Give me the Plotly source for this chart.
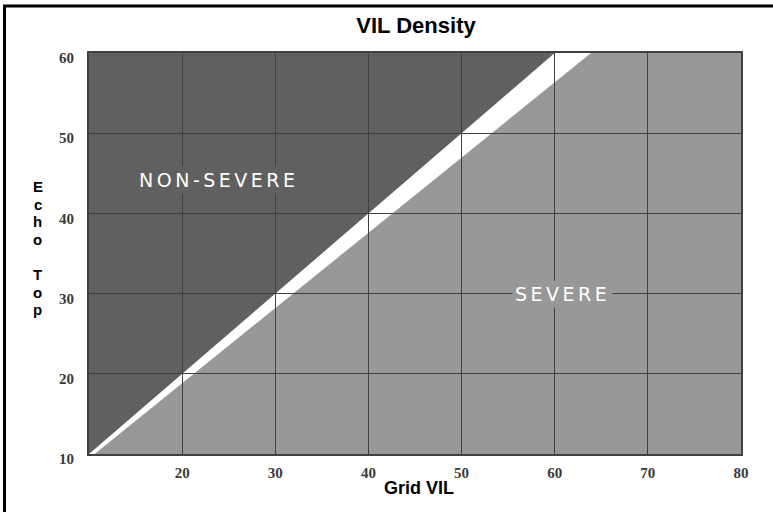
import plotly.graph_objects as go

# ---- data ----
grid_vil_ticks = [20, 30, 40, 50, 60, 70, 80]
echo_top_ticks = [10, 20, 30, 40, 50, 60]
vil_range = [10, 80]
top_range = [10, 60]

# upper edge of the white band (limit of the NON-SEVERE region)
upper_vil = [10, 60]
upper_top = [10, 60]
# lower edge of the white band (limit of the SEVERE region)
lower_vil = [10.6, 63.9]
lower_top = [10, 60]

region_labels = ["NON-SEVERE", "SEVERE"]
region_label_vil = [24, 60.8]
region_label_top = [44.2, 30]

title_text = "VIL Density"
x_title = "Grid VIL"
y_title_letters = ["E", "c", "h", "o", "", "T", "o", "p"]

# ---- styling / layout ----
W, H = 773, 512
ML, MR, MT, MB = 89, 32, 53, 58
PW, PH = W - ML - MR, H - MT - MB
DARK = "#606060"
LIGHT = "#989898"
GRID = "#404040"


def pxx(px):
    return (px - ML) / PW


def pxy(py):
    return (H - MB - py) / PH


fig = go.Figure()

# invisible trace to anchor the axes
fig.add_trace(go.Scatter(x=vil_range, y=top_range, mode="markers",
                         marker=dict(opacity=0), hoverinfo="skip", showlegend=False))

dark_path = (f"M {upper_vil[0]},{upper_top[0]} L {upper_vil[1]},{upper_top[1]} "
             f"L {vil_range[0]},{top_range[1]} Z")
light_path = (f"M {lower_vil[0]},{lower_top[0]} L {lower_vil[1]},{lower_top[1]} "
              f"L {vil_range[1]},{top_range[1]} L {vil_range[1]},{top_range[0]} Z")

shapes = [
    dict(type="path", path=dark_path, xref="x", yref="y", fillcolor=DARK,
         line=dict(width=0), layer="below"),
    dict(type="path", path=light_path, xref="x", yref="y", fillcolor=LIGHT,
         line=dict(width=0), layer="below"),
    # outer black frame (top and left visible)
    dict(type="rect", xref="paper", yref="paper",
         x0=pxx(4.5), y0=pxy(H + 40), x1=pxx(W + 40), y1=pxy(6),
         line=dict(color="black", width=3), layer="above"),
]

label_font = dict(family="DejaVu Sans", size=19, color="white")
annotations = []
for txt, xv, yv, bg in zip(region_labels, region_label_vil, region_label_top, [DARK, LIGHT]):
    annotations.append(dict(
        x=xv, y=yv, xref="x", yref="y", showarrow=False,
        text=f'<span style="letter-spacing:3.5px">{txt}</span>',
        font=label_font, bgcolor=bg, borderpad=2, xanchor="center", yanchor="middle"))

annotations.append(dict(
    x=pxx(419), y=pxy(488), xref="paper", yref="paper", showarrow=False,
    text=x_title, font=dict(family="Liberation Sans", size=18, color="black", weight="bold"),
    xanchor="center", yanchor="middle"))

y0c, dy = 187, 17.5
for i, ch in enumerate(y_title_letters):
    if not ch:
        continue
    annotations.append(dict(
        x=pxx(38), y=pxy(y0c + i * dy), xref="paper", yref="paper", showarrow=False,
        text=ch, font=dict(family="Liberation Sans Narrow, Liberation Sans", size=15,
                           color="black", weight="bold"),
        borderpad=0, xanchor="center", yanchor="middle"))

tickfont = dict(family="Liberation Serif", size=15, color="#3a3a3a", weight="bold")

fig.update_layout(
    width=W, height=H,
    margin=dict(l=ML, r=MR, t=MT, b=MB, autoexpand=False),
    paper_bgcolor="white", plot_bgcolor="white",
    title=dict(text=title_text, x=pxx(416), xref="paper", xanchor="center",
               y=1 - 25 / H, yref="container", yanchor="middle",
               font=dict(family="Liberation Sans", size=22, color="black", weight="bold")),
    shapes=shapes, annotations=annotations, showlegend=False,
    xaxis=dict(range=vil_range, tickvals=grid_vil_ticks, ticktext=[str(v) for v in grid_vil_ticks],
               showgrid=True, gridcolor=GRID, gridwidth=1, zeroline=False,
               showline=True, mirror=True, linecolor=GRID, linewidth=2,
               ticks="", tickfont=tickfont, ticklabelstandoff=4, fixedrange=True),
    yaxis=dict(range=top_range, tickvals=echo_top_ticks, ticktext=[str(v) for v in echo_top_ticks],
               showgrid=True, gridcolor=GRID, gridwidth=1, zeroline=False,
               showline=True, mirror=True, linecolor=GRID, linewidth=2,
               ticks="", tickfont=tickfont, ticklabelstandoff=10, ticklabelshift=5,
               fixedrange=True),
)

fig.write_html("out.html", config={"displayModeBar": False},
               post_script="document.body.style.margin='0';")
